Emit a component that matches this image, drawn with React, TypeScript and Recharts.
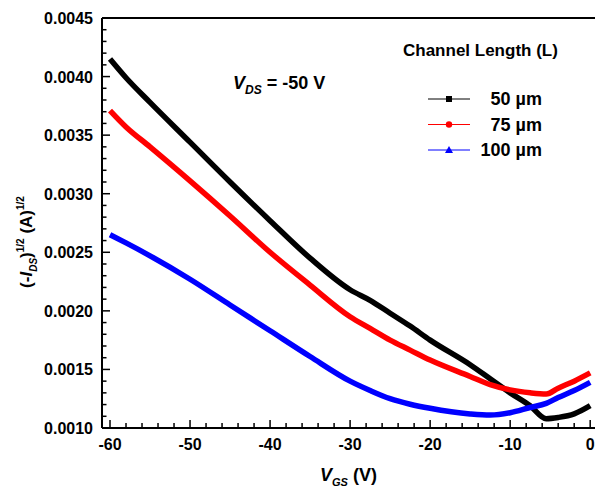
import React from "react";
import { LineChart, Line, XAxis, YAxis, ReferenceLine } from "recharts";

const FONT = '"Liberation Sans", Arial, sans-serif';

const VGS = [-60, -58, -55, -50, -45, -40, -35, -30, -27.5, -25, -22.5, -20, -15, -12.5, -10, -7.5, -5.5, -4, -2, 0];
const L50 = [0.00415, 0.00399, 0.00378, 0.00344, 0.0031, 0.00277, 0.00245, 0.00218, 0.00209, 0.00198, 0.00187, 0.00175, 0.00154, 0.00142, 0.0013, 0.00119, 0.00108, 0.00109, 0.00112, 0.00119];
const L75 = [0.00371, 0.00357, 0.0034, 0.00311, 0.00281, 0.0025, 0.00222, 0.00195, 0.00185, 0.00175, 0.001665, 0.00158, 0.00144, 0.00137, 0.001325, 0.0013, 0.00129, 0.00134, 0.0014, 0.00147];
const L100 = [0.00265, 0.00258, 0.00247, 0.00227, 0.00205, 0.00183, 0.00161, 0.0014, 0.00132, 0.00125, 0.001203, 0.001168, 0.00112, 0.00111, 0.00113, 0.001175, 0.00121, 0.00126, 0.00132, 0.00139];

const X_TICKS = Array.from({ length: 31 }, (_, i) => -60 + i * 2);
const X_LABELS = [-60, -50, -40, -30, -20, -10, 0];
const Y_TICKS = Array.from({ length: 36 }, (_, i) => +(0.001 + i * 0.0001).toFixed(4));
const Y_LABELS = [0.001, 0.0015, 0.002, 0.0025, 0.003, 0.0035, 0.004, 0.0045];

const SERIES = [
  { key: "l50", name: "50 \u00b5m", color: "#000000", shape: "square" },
  { key: "l75", name: "75 \u00b5m", color: "#ff0000", shape: "circle" },
  { key: "l100", name: "100 \u00b5m", color: "#0000ff", shape: "triangle" },
];

const data = VGS.map((v, i) => ({ v, l50: L50[i], l75: L75[i], l100: L100[i] }));

const XTick = ({ x, y, payload }: any) => {
  const major = X_LABELS.includes(payload.value);
  return (
    <g>
      <line x1={x} x2={x} y1={y} y2={y - (major ? 8 : 5)} stroke="#000" strokeWidth={1.5} />
      {major && (
        <text x={x} y={y + 22} textAnchor="middle" fontFamily={FONT} fontWeight="bold" fontSize={16} fill="#000">
          {payload.value}
        </text>
      )}
    </g>
  );
};

const YTick = ({ x, y, payload }: any) => {
  const major = Y_LABELS.some((t) => Math.abs(t - payload.value) < 1e-9);
  return (
    <g>
      <line x1={x} x2={x + (major ? 8 : 4.5)} y1={y} y2={y} stroke="#000" strokeWidth={1.5} />
      {major && (
        <text x={x - 9} y={y + 6} textAnchor="end" fontFamily={FONT} fontWeight="bold" fontSize={16} fill="#000">
          {payload.value.toFixed(4)}
        </text>
      )}
    </g>
  );
};

const XLabel = ({ viewBox }: any) => {
  const cx = viewBox.x + viewBox.width / 2;
  return (
    <text x={cx} y={481} textAnchor="middle" fontFamily={FONT} fontWeight="bold" fontSize={18} fill="#000">
      <tspan fontStyle="italic">V</tspan>
      <tspan fontSize={11} fontStyle="italic" dy={5}>GS</tspan>
      <tspan dy={-5}> (V)</tspan>
    </text>
  );
};

const YLabel = () => (
  <text x={0} y={0} transform="translate(32,242) rotate(-90)" textAnchor="middle" fontFamily={FONT} fontWeight="bold" fontSize={17} fill="#000">
    <tspan>(-</tspan>
    <tspan fontStyle="italic">I</tspan>
    <tspan fontSize={10} fontStyle="italic" dy={5}>DS</tspan>
    <tspan dy={-5}>)</tspan>
    <tspan fontSize={10} dy={-8}>1/2</tspan>
    <tspan dy={8}> (A)</tspan>
    <tspan fontSize={10} dy={-8}>1/2</tspan>
  </text>
);

const Marker = ({ shape, color, cx, cy }: any) => {
  if (shape === "square") return <rect x={cx - 3} y={cy - 3} width={6} height={6} fill={color} />;
  if (shape === "circle") return <circle cx={cx} cy={cy} r={3.2} fill={color} />;
  return <polygon points={`${cx},${cy - 4} ${cx - 4},${cy + 3} ${cx + 4},${cy + 3}`} fill={color} />;
};

const LegendBox = () => (
  <svg width={200} height={135} style={{ position: "absolute", left: 395, top: 30 }}>
    <text x={8} y={26} fontFamily={FONT} fontWeight="bold" fontSize={17} fill="#000">
      Channel Length (L)
    </text>
    {SERIES.map((s, i) => {
      const cy = 69 + i * 25.5;
      return (
        <g key={s.key}>
          <line x1={33} x2={75} y1={cy} y2={cy} stroke={s.color} strokeWidth={1} />
          <Marker shape={s.shape} color={s.color} cx={54} cy={cy} />
          <text x={147} y={cy + 6} textAnchor="end" fontFamily={FONT} fontWeight="bold" fontSize={18} fill="#000">
            {s.name}
          </text>
        </g>
      );
    })}
  </svg>
);

export default function App() {
  return (
    <div style={{ position: "absolute", left: 0, top: 0, width: 595, height: 491, background: "#fff" }}>
      <LineChart width={595} height={491} data={data} margin={{ top: 18, right: 0, left: 0, bottom: 0 }}>
        <XAxis
          type="number"
          dataKey="v"
          domain={[-61, 0.6]}
          ticks={X_TICKS}
          tick={<XTick />}
          tickSize={0}
          tickMargin={0}
          tickLine={false}
          interval={0}
          height={63}
          axisLine={{ stroke: "#000", strokeWidth: 2 }}
          allowDataOverflow
          label={<XLabel />}
        />
        <YAxis
          type="number"
          domain={[0.001, 0.0045]}
          ticks={Y_TICKS}
          tick={<YTick />}
          tickSize={0}
          tickMargin={0}
          tickLine={false}
          interval={0}
          width={102}
          axisLine={{ stroke: "#000", strokeWidth: 2 }}
          allowDataOverflow
          label={<YLabel />}
        />
        <ReferenceLine y={0.0045} stroke="#000" strokeWidth={2} />
        {SERIES.map((s) => (
          <Line
            key={s.key}
            type="monotone"
            dataKey={s.key}
            name={s.name}
            stroke={s.color}
            strokeWidth={5.5}
            dot={false}
            isAnimationActive={false}
          />
        ))}
      </LineChart>
      <LegendBox />
      <div
        style={{
          position: "absolute",
          left: 233,
          top: 73,
          fontFamily: FONT,
          fontWeight: "bold",
          fontSize: 18,
          whiteSpace: "nowrap",
        }}
      >
        <i>V</i>
        <sub style={{ fontSize: 12 }}>
          <i>DS</i>
        </sub>{" "}
        = -50 V
      </div>
    </div>
  );
}
